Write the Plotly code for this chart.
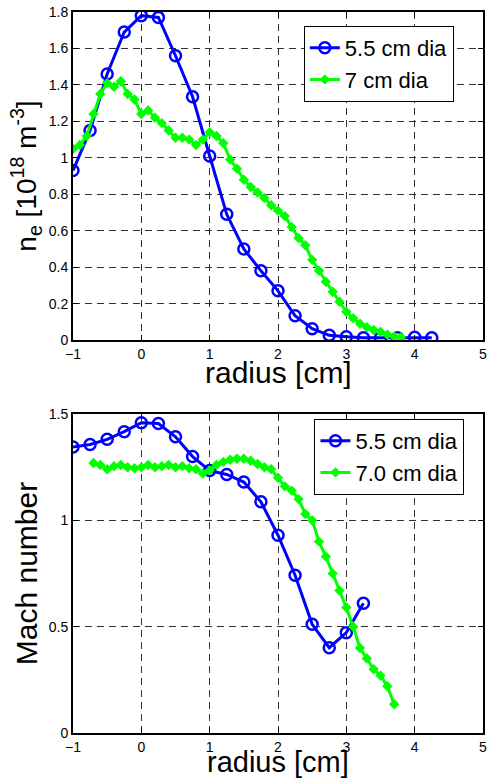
import plotly.graph_objects as go
from plotly.subplots import make_subplots

# ---- top panel: density ----
r_blue_top = [-1.0, -0.75, -0.5, -0.25, 0.0, 0.25, 0.5, 0.75, 1.0, 1.25, 1.5, 1.75,
              2.0, 2.25, 2.5, 2.75, 3.0, 3.25, 3.5, 3.75, 4.0, 4.25]
ne_blue = [0.93, 1.15, 1.46, 1.69, 1.78, 1.77, 1.56, 1.335, 1.01, 0.69, 0.50, 0.38,
           0.27, 0.133, 0.062, 0.026, 0.018, 0.012, 0.012, 0.012, 0.015, 0.012]

r_green_top = [-1.0, -0.9, -0.8, -0.7, -0.6, -0.5, -0.4, -0.3, -0.2, -0.1,
               0.0, 0.1, 0.2, 0.3, 0.4, 0.5, 0.6, 0.7, 0.8, 0.9,
               1.0, 1.1, 1.2, 1.3, 1.4, 1.5, 1.6, 1.7, 1.8, 1.9,
               2.0, 2.1, 2.2, 2.3, 2.4, 2.5, 2.6, 2.7, 2.8, 2.9,
               3.0, 3.1, 3.2, 3.3, 3.4, 3.5, 3.6, 3.7, 3.8]
ne_green = [1.05, 1.07, 1.12, 1.24, 1.35, 1.41, 1.39, 1.42, 1.35, 1.32,
            1.24, 1.26, 1.22, 1.19, 1.15, 1.11, 1.11, 1.10, 1.07, 1.10,
            1.14, 1.12, 1.08, 0.99, 0.94, 0.88, 0.84, 0.81, 0.78, 0.74,
            0.71, 0.68, 0.62, 0.56, 0.52, 0.44, 0.38, 0.32, 0.265, 0.21,
            0.155, 0.12, 0.09, 0.07, 0.055, 0.045, 0.03, 0.02, 0.015]

# ---- bottom panel: Mach number ----
r_blue_bot = [-1.0, -0.75, -0.5, -0.25, 0.0, 0.25, 0.5, 0.75, 1.0, 1.25, 1.5, 1.75,
              2.0, 2.25, 2.5, 2.75, 3.0, 3.25]
mach_blue = [1.345, 1.357, 1.381, 1.417, 1.459, 1.455, 1.393, 1.30, 1.234, 1.216, 1.18, 1.087,
             0.93, 0.742, 0.511, 0.401, 0.472, 0.61]

r_green_bot = [-0.7, -0.6, -0.5, -0.4, -0.3, -0.2, -0.1,
               0.0, 0.1, 0.2, 0.3, 0.4, 0.5, 0.6, 0.7, 0.8, 0.9,
               1.0, 1.1, 1.2, 1.3, 1.4, 1.5, 1.6, 1.7, 1.8, 1.9,
               2.0, 2.1, 2.2, 2.3, 2.4, 2.5, 2.6, 2.7, 2.8, 2.9,
               3.0, 3.1, 3.2, 3.3, 3.4, 3.5, 3.6, 3.7]
mach_green = [1.27, 1.26, 1.24, 1.255, 1.26, 1.25, 1.245,
              1.25, 1.26, 1.25, 1.255, 1.26, 1.25, 1.255, 1.245, 1.24, 1.22,
              1.235, 1.26, 1.275, 1.285, 1.29, 1.29, 1.28, 1.265, 1.25, 1.24,
              1.20, 1.16, 1.14, 1.10, 1.03, 1.00, 0.90, 0.83, 0.75, 0.67,
              0.59, 0.50, 0.40, 0.35, 0.30, 0.27, 0.22, 0.135]

x_ticks = [-1, 0, 1, 2, 3, 4, 5]
top_y_ticks = [0, 0.2, 0.4, 0.6, 0.8, 1.0, 1.2, 1.4, 1.6, 1.8]
bot_y_ticks = [0, 0.5, 1.0, 1.5]

BLUE = "#0000ff"
GREEN = "#00ff00"
FONT = "Arial, Liberation Sans, sans-serif"

fig = make_subplots(rows=2, cols=1)

def blue_trace(x, y, name, legend):
    return go.Scatter(x=x, y=y, name=name, mode="lines+markers", legend=legend,
                      line=dict(color=BLUE, width=3),
                      marker=dict(symbol="circle-open", size=11, color=BLUE,
                                  line=dict(width=2.5, color=BLUE)))

def green_trace(x, y, name, legend):
    return go.Scatter(x=x, y=y, name=name, mode="lines+markers", legend=legend,
                      line=dict(color=GREEN, width=3),
                      marker=dict(symbol="diamond", size=8, color=GREEN))

fig.add_trace(blue_trace(r_blue_top, ne_blue, "5.5 cm dia", "legend"), row=1, col=1)
fig.add_trace(green_trace(r_green_top, ne_green, "7 cm dia", "legend"), row=1, col=1)
fig.add_trace(blue_trace(r_blue_bot, mach_blue, "5.5 cm dia", "legend2"), row=2, col=1)
fig.add_trace(green_trace(r_green_bot, mach_green, "7.0 cm dia", "legend2"), row=2, col=1)

axis_common = dict(showline=True, linewidth=2, linecolor="black", mirror="allticks",
                   ticks="inside", ticklen=5, tickcolor="black", tickwidth=1,
                   showgrid=True, gridcolor="#333", griddash="7px,5px", gridwidth=1,
                   zeroline=False, tickfont=dict(family=FONT, size=14, color="black"))

fig.update_xaxes(range=[-1, 5], tickvals=x_ticks, **axis_common)

fig.update_yaxes(**axis_common)
fig.update_yaxes(range=[0, 1.8], tickvals=top_y_ticks, row=1, col=1,
                 title=dict(text="n<sub>e</sub> [10<sup>18</sup> m<sup>-3</sup>]",
                            font=dict(family=FONT, size=28, color="black"), standoff=4))
fig.update_yaxes(range=[0, 1.5], tickvals=bot_y_ticks, row=2, col=1,
                 title=dict(text="Mach number",
                            font=dict(family=FONT, size=30, color="black"), standoff=2))

for xr, yr, fs, ys in (("x domain", "y domain", 30, -14), ("x2 domain", "y2 domain", 29, -11)):
    fig.add_annotation(text="radius [cm]", xref=xr, yref=yr, x=0.5, y=0,
                       xanchor="center", yanchor="top", yshift=ys, showarrow=False,
                       font=dict(family=FONT, size=fs, color="black"))

legend_common = dict(xanchor="left", yanchor="top",
                     bordercolor="black", borderwidth=1, bgcolor="white",
                     font=dict(family=FONT, size=22, color="black"),
                     tracegroupgap=0, itemwidth=30)

fig.update_layout(
    width=490, height=778,
    margin=dict(l=73, r=3, t=12, b=45),
    paper_bgcolor="white", plot_bgcolor="white",
    font=dict(family=FONT, color="black"),
    xaxis=dict(domain=[0, 1]), yaxis=dict(domain=[0.545, 1.0]),
    xaxis2=dict(domain=[0, 1]), yaxis2=dict(domain=[0.0, 0.4424]),
    legend=dict(x=0.563, y=0.9806, **legend_common),
    legend2=dict(x=0.589, y=0.4355, **legend_common),
)

fig.write_html("out.html")
